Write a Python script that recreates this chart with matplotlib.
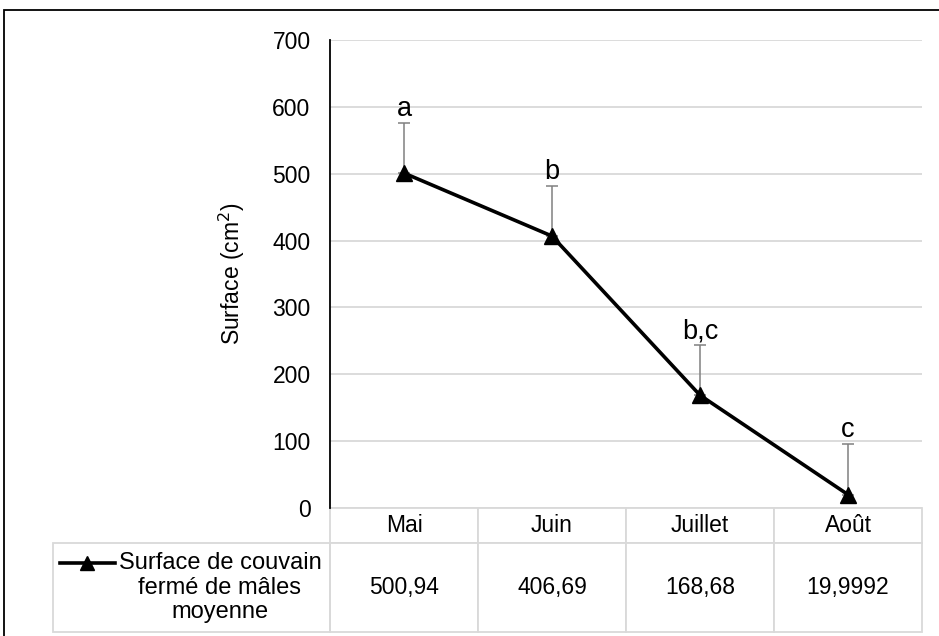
import matplotlib.pyplot as plt
from matplotlib.lines import Line2D
from matplotlib.patches import Rectangle

plt.rcParams['font.family'] = ['Liberation Sans', 'DejaVu Sans']

# donnees
mois = ['Mai', 'Juin', 'Juillet', 'Août']
surface = [500.94, 406.69, 168.68, 19.9992]
erreur = [75, 75, 75, 75]
lettres = ['a', 'b', 'b,c', 'c']
valeurs_txt = ['500,94', '406,69', '168,68', '19,9992']
serie = 'Surface de couvain\nfermé de mâles\nmoyenne'

W, H = 939, 636
fs = 16.5
fig = plt.figure(figsize=(W / 100, H / 100), dpi=100)

# zone du graphique (pixels -> coords figure)
x0, x1, ytop, ybot = 330, 922, 40, 508
ax = fig.add_axes([x0 / W, 1 - ybot / H, (x1 - x0) / W, (ybot - ytop) / H])

x = list(range(len(mois)))
ax.errorbar(x, surface, yerr=[[0] * 4, erreur], fmt='none', ecolor='#808080',
            elinewidth=1.1, capsize=4.3, capthick=1.1, zorder=2)
ax.plot(x, surface, color='black', lw=2.6, marker='^', ms=11.5, zorder=3)

for xi, yi, e, l in zip(x, surface, erreur, lettres):
    ax.annotate(l, (xi, yi + e), xytext=(0, 7), textcoords='offset pixels',
                ha='center', va='baseline', fontsize=19.5)

ax.set_xlim(-0.5, 3.5)
ax.set_ylim(0, 700)
ax.set_yticks(range(0, 701, 100))
ax.yaxis.grid(True, color='#d9d9d9', lw=1.3)
ax.set_axisbelow(True)
ax.set_xticks([])
ax.tick_params(axis='y', length=0, labelsize=fs, pad=14)
for s in ['top', 'right', 'bottom']:
    ax.spines[s].set_visible(False)
ax.spines['left'].set_linewidth(1.3)
ax.set_ylabel('Surface (cm$^2$)', fontsize=fs)
ax.yaxis.set_label_coords((247 - x0) / (x1 - x0), 0.5)

# table de donnees sous le graphique
hpx = ybot - ytop
wpx = x1 - x0
h_head, h_data = 35, 89
lab_left = 53
tab = ax.table(cellText=[valeurs_txt], colLabels=mois, rowLabels=[''],
               cellLoc='center',
               bbox=[0, -(h_head + h_data) / hpx, 1, (h_head + h_data) / hpx])
tab.auto_set_font_size(False)
for (r, c), cell in tab.get_celld().items():
    cell.set_edgecolor('#d9d9d9')
    cell.set_linewidth(1.3)
    cell.set_fontsize(fs)
    cell.set_height(h_head if r == 0 else h_data)
    if c == -1:
        cell.set_visible(False)
    else:
        cell.set_width(148)

# cellule de la serie (legende)
ax.add_patch(Rectangle(((lab_left - x0) / wpx, -(h_head + h_data) / hpx),
                       (x0 - lab_left) / wpx, h_data / hpx,
                       transform=ax.transAxes, fill=False,
                       edgecolor='#d9d9d9', lw=1.3, clip_on=False))
yl = -(h_head + h_data / 2) / hpx
ax.text((220 - x0) / wpx, yl, serie, transform=ax.transAxes, ha='center',
        va='center', fontsize=17, linespacing=1.12)
ly = -(h_head + 20) / hpx
ax.add_line(Line2D([(60 - x0) / wpx, (115 - x0) / wpx], [ly, ly],
                   transform=ax.transAxes, color='black', lw=2.6,
                   clip_on=False))
ax.add_line(Line2D([(87 - x0) / wpx], [ly], transform=ax.transAxes,
                   color='black', marker='^', ms=10, clip_on=False))

# cadre
fig.patches.append(Rectangle((4 / W, -0.05), 1.1, 1 - 10 / H + 0.05,
                             transform=fig.transFigure, fill=False,
                             edgecolor='black', lw=1.3))

fig.savefig('out.png', dpi=100)
